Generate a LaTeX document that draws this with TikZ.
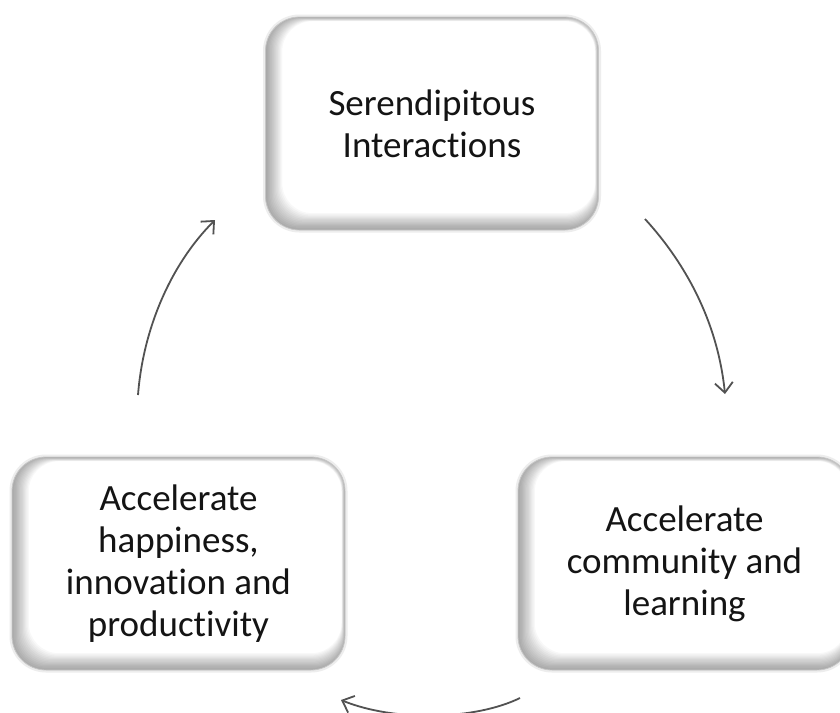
\documentclass[tikz,border=0pt]{standalone}
\usepackage{fontspec}
\setmainfont[Ligatures={NoCommon,NoContextual}]{Carlito}
\usetikzlibrary{arrows.meta}
\begin{document}
\begin{tikzpicture}[x=1pt,y=-1pt,
  softbox/.style={rounded corners=34pt, minimum width=333pt, minimum height=213pt,
    draw=black!22, line width=0.8pt, fill=white, align=center, text=black!92,
    font=\fontsize{37}{42}\selectfont, inner sep=0pt,
    preaction={draw=black!7, line width=5pt},
    path picture={
      \foreach \i in {1,...,14}{
        \fill[black, opacity=0.028, even odd rule]
          ([xshift=-5pt,yshift=-5pt]path picture bounding box.south west) rectangle
          ([xshift=5pt,yshift=5pt]path picture bounding box.north east)
          [rounded corners=30pt]
          ([xshift=\i*1.2pt, yshift=\i*1.2pt]path picture bounding box.south west) rectangle
          ([xshift=-\i*0.25pt, yshift=-\i*0.3pt]path picture bounding box.north east);
      }
    }},
  flow/.style={draw=black!68, line width=1.8pt,
    -{Straight Barb[length=10pt,width=18pt,line width=1.8pt]}}
]
\useasboundingbox (0,0) rectangle (840,712);
\fill[white] (0,0) rectangle (840,712);
\begin{scope}
\clip (0,0) rectangle (840,712);
\node[softbox] (top) at (432,123.5) {Serendipitous\\Interactions};
\node[softbox] (left) at (178.5,563.5) {Accelerate\\happiness,\\innovation and\\productivity};
\node[softbox] (right) at (684.5,563.5) {Accelerate\\community and\\learning};

\coordinate (a1s) at (645,219);
\coordinate (a1e) at (725,394);
\coordinate (a2s) at (520,698);
\coordinate (a2e) at (341,700);
\coordinate (a3s) at (138,395);
\coordinate (a3e) at (215,220);

\draw[flow] (a1s) .. controls (688,266) and (718,325) .. (a1e);
\draw[flow] (a2s) .. controls (475,720) and (395,722) .. (a2e);
\draw[flow] (a3s) .. controls (143,330) and (170,265) .. (a3e);
\end{scope}
\end{tikzpicture}
\end{document}
